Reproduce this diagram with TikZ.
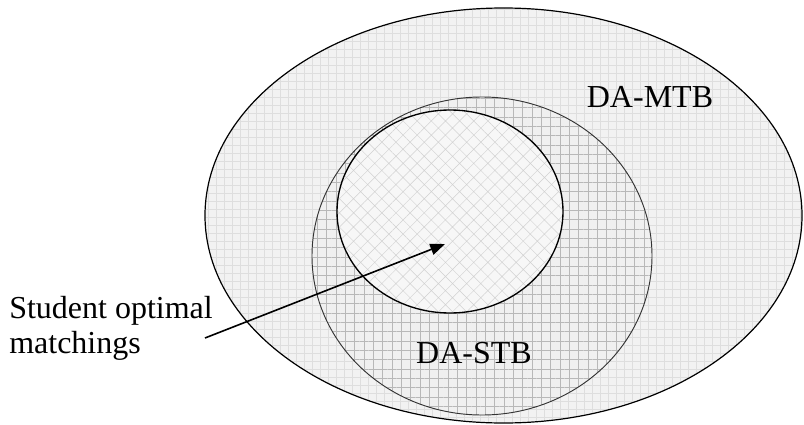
\documentclass[tikz,border=0pt]{standalone}
\usepackage{fontspec}
\setmainfont{Liberation Serif}
\usetikzlibrary{shapes.geometric,patterns.meta,arrows.meta}
\begin{document}
\begin{tikzpicture}[x=0.75pt,y=-0.75pt,
  setshape/.style={ellipse,inner sep=0pt,draw=black,line width=0.9pt},
  outerset/.style={setshape,preaction={fill=black!5},
    pattern={Hatch[angle=0,distance=6pt,line width=0.3pt]},pattern color=black!13},
  stbset/.style={setshape,draw=black!80,line width=0.7pt,preaction={fill=black!6},
    pattern={Hatch[angle=0,distance=7pt,line width=0.4pt]},pattern color=black!28},
  innerset/.style={setshape,line width=1pt,preaction={fill=black!3},
    pattern={Hatch[angle=45,distance=7.5pt,line width=0.35pt]},pattern color=black!18},
  lbl/.style={font=\fontsize{24}{26.25}\selectfont,inner sep=0pt},
  pointer/.style={line width=1.2pt,-{Triangle[length=11pt,width=8.5pt]}}]
\useasboundingbox[fill=white] (0,0) rectangle (804,425);
\node[outerset,minimum width=447.75pt,minimum height=311.25pt] (mtb) at (503.5,215.5) {};
\node[stbset,minimum width=255pt,minimum height=238.5pt] (stb) at (482,256) {};
\node[innerset,minimum width=169.5pt,minimum height=152.25pt] (sopt) at (450,211.5) {};
\node[lbl,anchor=base] (mtblbl) at (650,107) {DA-MTB};
\node[lbl,anchor=base] (stblbl) at (474,363) {DA-STB};
\node[lbl,anchor=base west,align=left] (sotext) at (9,353) {Student optimal\\matchings};
\coordinate (tail) at (205,338);
\coordinate (head) at (445,244);
\draw[pointer] (tail) -- (head);
\end{tikzpicture}
\end{document}
